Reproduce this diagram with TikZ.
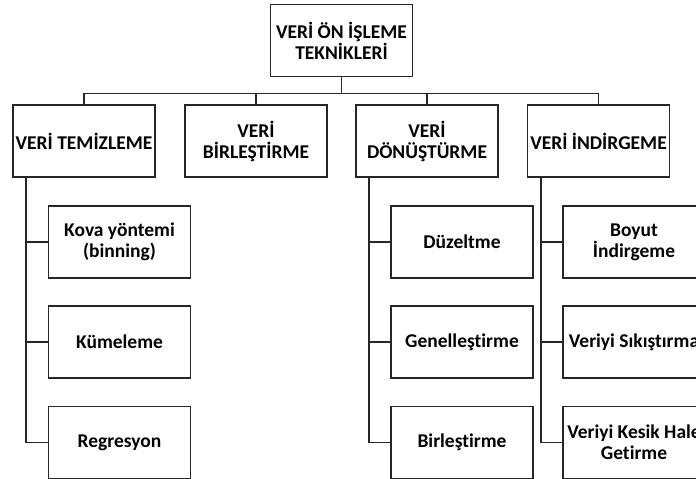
\documentclass[tikz,border=0pt]{standalone}
\usepackage{fontspec}
\setmainfont{Carlito}[Ligatures={NoCommon}]

\begin{document}
\begin{tikzpicture}[
  x=1pt, y=-1pt,
  box/.style={rectangle, draw=black!85, line width=1.9pt, minimum width=142pt, minimum height=72pt,
    inner sep=0pt, align=center, font=\fontsize{19.5}{21}\selectfont\bfseries},
  link/.style={draw=black!85, line width=1.9pt}
]
\useasboundingbox (0,0) rectangle (696,479);
\clip (0,0) rectangle (696,479);

% Root
\node[box] (root) at (341.5,40.5) {VERİ ÖN İŞLEME\\TEKNİKLERİ};

% Main techniques
\node[box] (clean) at (84,141) {VERİ TEMİZLEME};
\node[box] (merge) at (256,141) {VERİ\\BİRLEŞTİRME};
\node[box] (trans) at (427,141) {VERİ\\DÖNÜŞTÜRME};
\node[box] (reduce) at (598.5,141) {VERİ İNDİRGEME};

\draw[link] (root.south) -- ++(0,16) -| (clean.north);
\draw[link] (root.south) -- ++(0,16) -| (merge.north);
\draw[link] (root.south) -- ++(0,16) -| (trans.north);
\draw[link] (root.south) -- ++(0,16) -| (reduce.north);

% Cleaning methods
\node[box] (bin) at (119.5,242) {Kova yöntemi\\(binning)};
\node[box] (clust) at (119.5,342) {Kümeleme};
\node[box] (regr) at (119.5,442.5) {Regresyon};

% Transformation methods
\node[box] (smooth) at (462,242) {Düzeltme};
\node[box] (gener) at (462,342) {Genelleştirme};
\node[box] (aggr) at (462,442.5) {Birleştirme};

% Reduction methods
\node[box] (dimred) at (634,242) {Boyut\\İndirgeme};
\node[box] (compr) at (634,342) {Veriyi Sıkıştırma};
\node[box] (discr) at (634,442.5) {Veriyi Kesik Hale\\Getirme};

% Connect sub-methods to their groups
\foreach \grp/\a/\b/\c in {clean/bin/clust/regr, trans/smooth/gener/aggr, reduce/dimred/compr/discr}{
  \draw[link] ([xshift=14pt]\grp.south west) |- (\a.west);
  \draw[link] ([xshift=14pt]\grp.south west) |- (\b.west);
  \draw[link] ([xshift=14pt]\grp.south west) |- (\c.west);
}

\end{tikzpicture}
\end{document}
